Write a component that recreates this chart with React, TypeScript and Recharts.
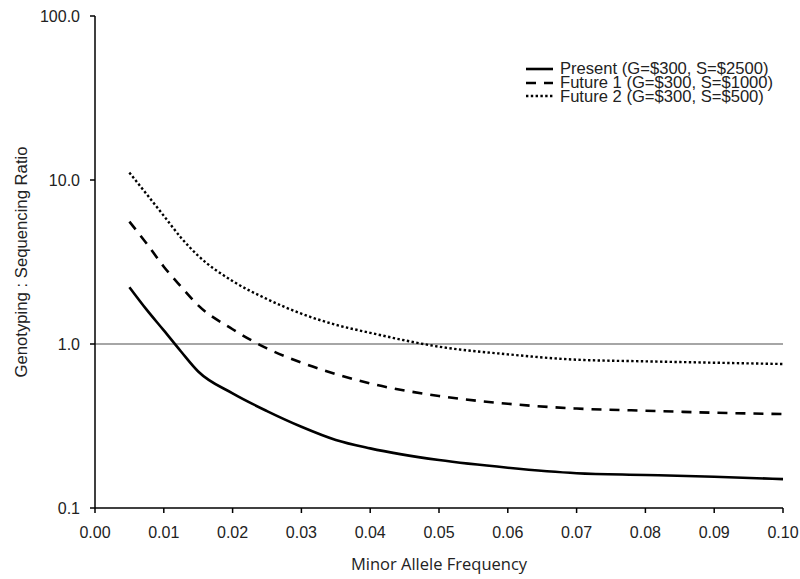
import React from 'react';
import { LineChart, Line, XAxis, YAxis, ReferenceLine, Legend } from 'recharts';

const freqs = [0.005, 0.0075, 0.01, 0.0125, 0.015, 0.02, 0.025, 0.03, 0.035, 0.04, 0.05, 0.06, 0.07, 0.08, 0.09, 0.1];
const present = [2.22, 1.62, 1.21, 0.9, 0.68, 0.5, 0.39, 0.313, 0.26, 0.231, 0.196, 0.176, 0.163, 0.159, 0.155, 0.15];
const future1 = [5.57, 4.1, 2.96, 2.24, 1.72, 1.23, 0.94, 0.77, 0.656, 0.575, 0.482, 0.432, 0.404, 0.392, 0.381, 0.374];
const future2 = [11.1, 8.2, 6.05, 4.45, 3.45, 2.42, 1.88, 1.53, 1.31, 1.17, 0.963, 0.865, 0.802, 0.784, 0.769, 0.755];

const xTicks = [0, 0.01, 0.02, 0.03, 0.04, 0.05, 0.06, 0.07, 0.08, 0.09, 0.1];
const yTicks = [0.1, 1, 10, 100];

const seriesNames = ['Present (G=$300, S=$2500)', 'Future 1 (G=$300, S=$1000)', 'Future 2 (G=$300, S=$500)'];

const data = freqs.map((f, i) => ({ f, present: present[i], future1: future1[i], future2: future2[i] }));

const styles = [
  { key: 'present', dash: undefined as string | undefined, width: 2.6 },
  { key: 'future1', dash: '10 8', width: 2.6 },
  { key: 'future2', dash: '2.4 2.4', width: 2.4 },
];

const arial = 'Liberation Sans, Arial, sans-serif';
const tickFont = { fontFamily: arial, fontSize: 16, fill: '#222' };

const LegendContent = () => (
  <div style={{ fontFamily: arial, fontSize: 16.6, color: '#222' }}>
    {seriesNames.map((n, i) => (
      <div key={n} style={{ display: 'flex', alignItems: 'center', height: 13.8, lineHeight: '13.8px', whiteSpace: 'nowrap' }}>
        <svg width={34} height={10} style={{ display: 'block' }}>
          <line x1={0} y1={5} x2={27} y2={5} stroke="#000" strokeWidth={styles[i].width} strokeDasharray={styles[i].dash} />
        </svg>
        <span>{n}</span>
      </div>
    ))}
  </div>
);

export default function App() {
  return (
    <div style={{ position: 'absolute', left: 0, top: 0, background: '#fff' }}>
      <LineChart width={800} height={579} data={data} margin={{ top: 16, right: 17, bottom: 31, left: 0 }}>
        <XAxis
          dataKey="f"
          type="number"
          domain={[0, 0.1]}
          ticks={xTicks}
          tickFormatter={(v: number) => v.toFixed(2)}
          stroke="#000"
          strokeWidth={1.5}
          tickSize={5}
          tickMargin={14}
          tick={tickFont}
          height={40}
          label={{ value: 'Minor Allele Frequency', position: 'bottom', offset: 10, style: { fontFamily: 'Open Sans, sans-serif', fontSize: 16.5, fill: '#222' } }}
        />
        <YAxis
          scale="log"
          domain={[0.1, 100]}
          ticks={yTicks}
          allowDataOverflow
          tickFormatter={(v: number) => v.toFixed(1)}
          stroke="#000"
          strokeWidth={1.5}
          tickSize={5}
          tickMargin={10}
          tick={tickFont}
          width={95}
          label={{ value: 'Genotyping : Sequencing Ratio', angle: -90, position: 'insideLeft', offset: 21.5, style: { textAnchor: 'middle', fontFamily: arial, fontSize: 16.7, fill: '#222' } }}
        />
        <ReferenceLine y={1} stroke="#a6a6a6" strokeWidth={2} ifOverflow="visible" />
        {styles.map((s) => (
          <Line
            key={s.key}
            dataKey={s.key}
            type="monotone"
            stroke="#000"
            strokeWidth={s.width}
            strokeDasharray={s.dash}
            dot={false}
            isAnimationActive={false}
          />
        ))}
        <Legend
          layout="horizontal"
          verticalAlign="middle"
          align="center"
          content={LegendContent}
          wrapperStyle={{ top: 62, left: 526, width: 270 }}
        />
      </LineChart>
    </div>
  );
}
